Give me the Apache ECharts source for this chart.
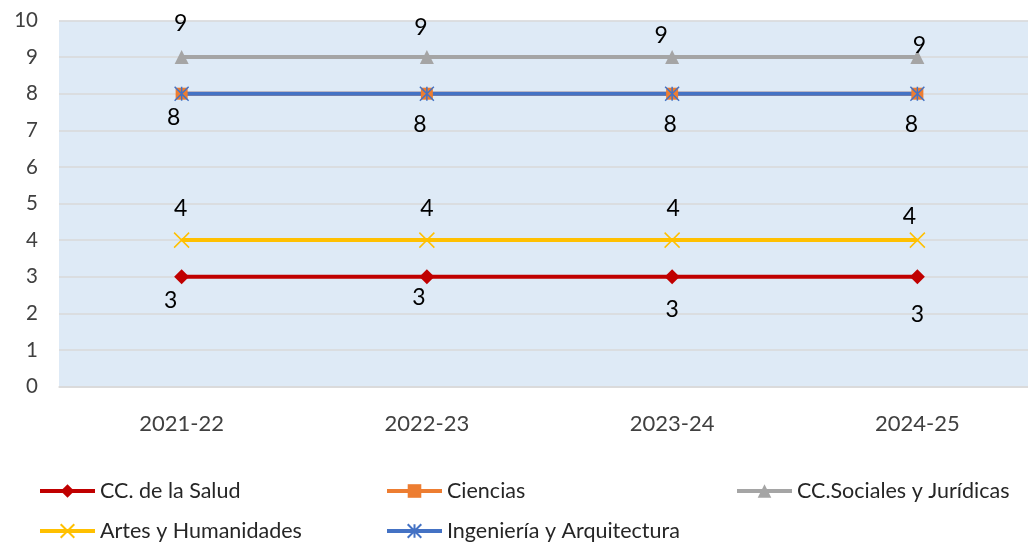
<!DOCTYPE html>
<html>
<head>
<meta charset="utf-8">
<script src="https://cdn.jsdelivr.net/npm/echarts@6/dist/echarts.min.js"></script>
<style>
  html, body { margin: 0; padding: 0; background: #fff; overflow: hidden; }
  #chart { width: 1041px; height: 544px; }
</style>
</head>
<body>
<div id="chart"></div>
<script>
  // datos
  const cursos = ['2021-22', '2022-23', '2023-24', '2024-25'];
  const salud = [3, 3, 3, 3];
  const ciencias = [8, 8, 8, 8];
  const sociales = [9, 9, 9, 9];
  const artes = [4, 4, 4, 4];
  const ingenieria = [8, 8, 8, 8];

  // desplazamiento de las etiquetas respecto al punto
  const offSalud = [[-11, 24], [-8, 21], [0, 33], [0, 38]];
  const offSociales = [[-1, -34], [-6, -30], [-11, -22], [2, -12]];
  const offArtes = [[-1, -32], [0, -32], [1, -32], [-8, -24]];
  const offIng = [[-8, 24], [-7, 31], [-2, 31], [-6, 31]];

  const font = 'Lato, "Open Sans", sans-serif';

  function conEtiquetas(vals, offs) {
    return vals.map((v, i) => ({
      value: v,
      label: { show: true, position: 'inside', offset: offs[i] }
    }));
  }

  const etiqueta = { color: '#000', fontSize: 23, fontFamily: font };

  function leyenda(left, nombres) {
    return {
      orient: 'vertical', left: left, top: 480, padding: 0,
      itemWidth: 55, itemHeight: 17, itemGap: 18,
      lineStyle: { width: 4 },
      textStyle: { fontSize: 21.5, color: '#262626', fontFamily: font },
      data: nombres
    };
  }

  const chart = echarts.init(document.getElementById('chart'));
  chart.setOption({
    animation: false,
    textStyle: { fontFamily: font },
    grid: { left: 59, top: 20.5, width: 981, height: 366, backgroundColor: '#DEEAF6', show: true, borderWidth: 0 },
    xAxis: {
      type: 'category',
      data: cursos,
      axisLine: { lineStyle: { color: '#D9D9D9', width: 1.5 } },
      axisTick: { show: false },
      axisLabel: { color: '#404040', fontSize: 22, margin: 26, fontFamily: font }
    },
    yAxis: {
      type: 'value',
      min: 0, max: 10, interval: 1,
      axisLine: { show: false },
      axisTick: { show: false },
      splitLine: { lineStyle: { color: '#D9D9D9', width: 1.5 } },
      axisLabel: { color: '#404040', fontSize: 20.5, margin: 21, fontFamily: font }
    },
    legend: [
      leyenda(38, ['CC. de la Salud', 'Artes y Humanidades']),
      leyenda(385, ['Ciencias', 'Ingeniería y Arquitectura']),
      leyenda(735, ['CC.Sociales y Jurídicas'])
    ],
    series: [
      {
        name: 'CC. de la Salud', type: 'line',
        data: conEtiquetas(salud, offSalud),
        symbol: 'diamond', symbolSize: 15,
        lineStyle: { color: '#C00000', width: 4 },
        itemStyle: { color: '#C00000' },
        label: etiqueta
      },
      {
        name: 'Ciencias', type: 'line',
        data: ciencias,
        symbol: 'rect', symbolSize: 12,
        lineStyle: { color: '#ED7D31', width: 4 },
        itemStyle: { color: '#ED7D31' }
      },
      {
        name: 'CC.Sociales y Jurídicas', type: 'line',
        data: conEtiquetas(sociales, offSociales),
        symbol: 'triangle', symbolSize: 14,
        lineStyle: { color: '#A5A5A5', width: 4 },
        itemStyle: { color: '#A5A5A5' },
        label: etiqueta
      },
      {
        name: 'Artes y Humanidades', type: 'line',
        data: conEtiquetas(artes, offArtes),
        symbol: 'path://M0,0L10,10M10,0L0,10', symbolSize: 15,
        lineStyle: { color: '#FFC000', width: 4 },
        itemStyle: { color: 'rgba(0,0,0,0)', borderColor: '#FFC000', borderWidth: 1.5 },
        label: etiqueta
      },
      {
        name: 'Ingeniería y Arquitectura', type: 'line',
        data: conEtiquetas(ingenieria, offIng),
        symbol: 'path://M0,0L10,10M10,0L0,10M5,0L5,10', symbolSize: 14,
        lineStyle: { color: '#4472C4', width: 4 },
        itemStyle: { color: 'rgba(0,0,0,0)', borderColor: '#4472C4', borderWidth: 1.5 },
        label: etiqueta
      }
    ]
  });
</script>
</body>
</html>
